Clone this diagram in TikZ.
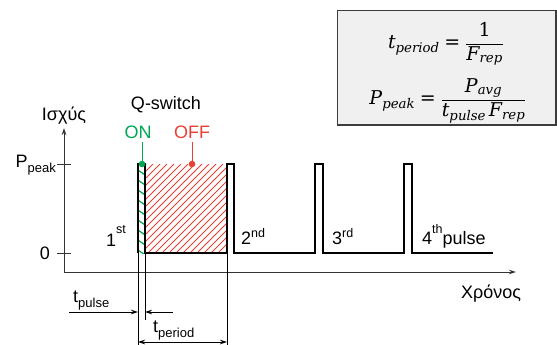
\documentclass[tikz,border=0pt]{standalone}
\usepackage{fontspec}
\usepackage{amsmath}
\setmainfont{Liberation Sans}
\newfontfamily\mfont{DejaVu Serif}
\usetikzlibrary{arrows.meta}
\definecolor{qgreen}{RGB}{0,166,81}
\definecolor{qred}{RGB}{232,64,52}
\definecolor{boxfill}{RGB}{240,240,240}
\definecolor{boxline}{RGB}{60,60,60}
\newcommand\lowsub[1]{\raisebox{-5pt}{\fontsize{13}{15}\selectfont #1}}
\newcommand\highsup[2][9pt]{\raisebox{#1}{\fontsize{12.5}{14}\selectfont #2}}
\newcommand\mi[1]{\text{\mfont\itshape #1}}
\newcommand\mr[1]{\text{\mfont #1}}
\newcommand\meq{\mathrel{\text{\mfont =}}}
\tikzset{
  lab/.style={font=\fontsize{18}{21}\selectfont, inner sep=0pt},
  fml/.style={font=\fontsize{19}{23}\selectfont, inner sep=0pt},
  pulse/.style={line width=2.5pt, line join=miter, line cap=butt},
  axisline/.style={line width=1pt, black!80},
  thinline/.style={line width=0.9pt, black},
  tip/.style={-{Stealth[length=7pt,width=4.5pt]}},
  dtip/.style={{Stealth[length=7pt,width=4.5pt]}-{Stealth[length=7pt,width=4.5pt]}},
}
\begin{document}
\begin{tikzpicture}[x=1pt,y=-1pt]
\useasboundingbox (0,0) rectangle (557,345);
% formula box
\node[draw=boxline, fill=boxfill, line width=1pt, minimum width=218pt, minimum height=114pt, inner sep=0pt, anchor=north west] (fbox) at (337,10) {};
\draw[boxline, line width=2pt] (fbox.south west) -- (fbox.south east) -- (fbox.north east);
\node[fml] (f1) at (446,44) {$\displaystyle \mi{t}_{\mi{period}} \meq \frac{\mr{1}}{\mi{F}_{\mi{rep}}}$};
\node[fml] (f2) at (448,101) {$\displaystyle \mi{P}_{\mi{peak}} \meq \frac{\mi{P}_{\mi{avg}}}{\mi{t}_{\mi{pulse}}\,\mi{F}_{\mi{rep}}}$};

% hatching
\begin{scope}
\clip (145,164) rectangle (227,253);
\foreach \x in {50,57,...,240} \draw[qred, line width=0.9pt] (\x,253) -- (\x+89,164);
\end{scope}
\begin{scope}
\clip (139,164) rectangle (145,253);
\foreach \y in {160,170,...,260} \draw[qgreen, line width=1.2pt] (138,\y) -- (145,\y+5);
\end{scope}

% axes
\coordinate (orig) at (64,272);
\coordinate (ytop) at (64,128);
\coordinate (xend) at (516,272);
\draw[axisline, tip] (orig) -- (ytop);
\draw[axisline, tip] (orig) -- (xend);
\coordinate (tpa) at (57,164); \coordinate (tpb) at (71,164);
\coordinate (tza) at (57,253); \coordinate (tzb) at (71,253);
\draw[axisline] (tpa) -- (tpb);
\draw[axisline] (tza) -- (tzb);

% marker lines
\coordinate (m1a) at (138,253); \coordinate (m1b) at (138,345);
\coordinate (m2a) at (145,164); \coordinate (m2c) at (145,253); \coordinate (m2b) at (145,320);
\coordinate (m3a) at (227,253); \coordinate (m3b) at (227,345);
\draw[thinline] (m1a) -- (m1b);
\draw[thinline, line width=1.5pt] (m2a) -- (m2c);
\draw[thinline] (m2c) -- (m2b);
\draw[thinline] (m3a) -- (m3b);

% pulses
\draw[pulse] (138,253) -- (138,164) -- (145.5,164);
\draw[pulse] (144,253) -- (227,253) -- (227,164) -- (234,164) -- (234,253) -- (315,253) -- (315,164) -- (323,164) -- (323,253) -- (404,253) -- (404,164) -- (412,164) -- (412,253) -- (493,253);

% Q-switch labels
\node[lab, anchor=base] (qs) at (166,109) {Q-switch};
\node[lab, anchor=base, text=qgreen] (on) at (138,138) {ON};
\node[lab, anchor=base, text=qred] (off) at (192,138) {OFF};
\coordinate (ondot) at (142,164);
\coordinate (offdot) at (192,164);
\draw[qgreen, line width=1pt] (142,142) -- (ondot);
\draw[qred, line width=1pt] (192,142) -- (offdot);
\fill[qgreen] (ondot) circle (3.3pt);
\fill[qred] (offdot) circle (3.3pt);

% axis labels
\node[lab, anchor=base] (ylab) at (64,120) {Ισχύς};
\node[lab, anchor=base west] (xlab) at (461,298) {Χρόνος};
\node[lab, anchor=base east] (ppk) at (56,167) {P\lowsub{peak}};
\node[lab, anchor=base] (zero) at (45,259) {0};

% pulse labels
\node[lab, anchor=base west] (p1) at (106,246) {1\highsup[13pt]{st}};
\node[lab, anchor=base west] (p2) at (241,244) {2\highsup[7pt]{nd}};
\node[lab, anchor=base west] (p3) at (332,244) {3\highsup[7pt]{rd}};
\node[lab, anchor=base west] (p4) at (422,244) {4\highsup[11pt]{th}pulse};

% time labels
\node[lab, anchor=base west] (tpl) at (73,302) {t\lowsub{pulse}};
\node[lab, anchor=base west] (tpr) at (153,332) {t\lowsub{period}};
\coordinate (a1s) at (69,312); \coordinate (a1e) at (138,312);
\coordinate (a2s) at (173,312); \coordinate (a2e) at (145,312);
\draw[thinline, tip] (a1s) -- (a1e);
\draw[thinline, tip] (a2s) -- (a2e);
\coordinate (pa) at (138,342); \coordinate (pb) at (227,342);
\draw[thinline, dtip] (pa) -- (pb);
\end{tikzpicture}
\end{document}
